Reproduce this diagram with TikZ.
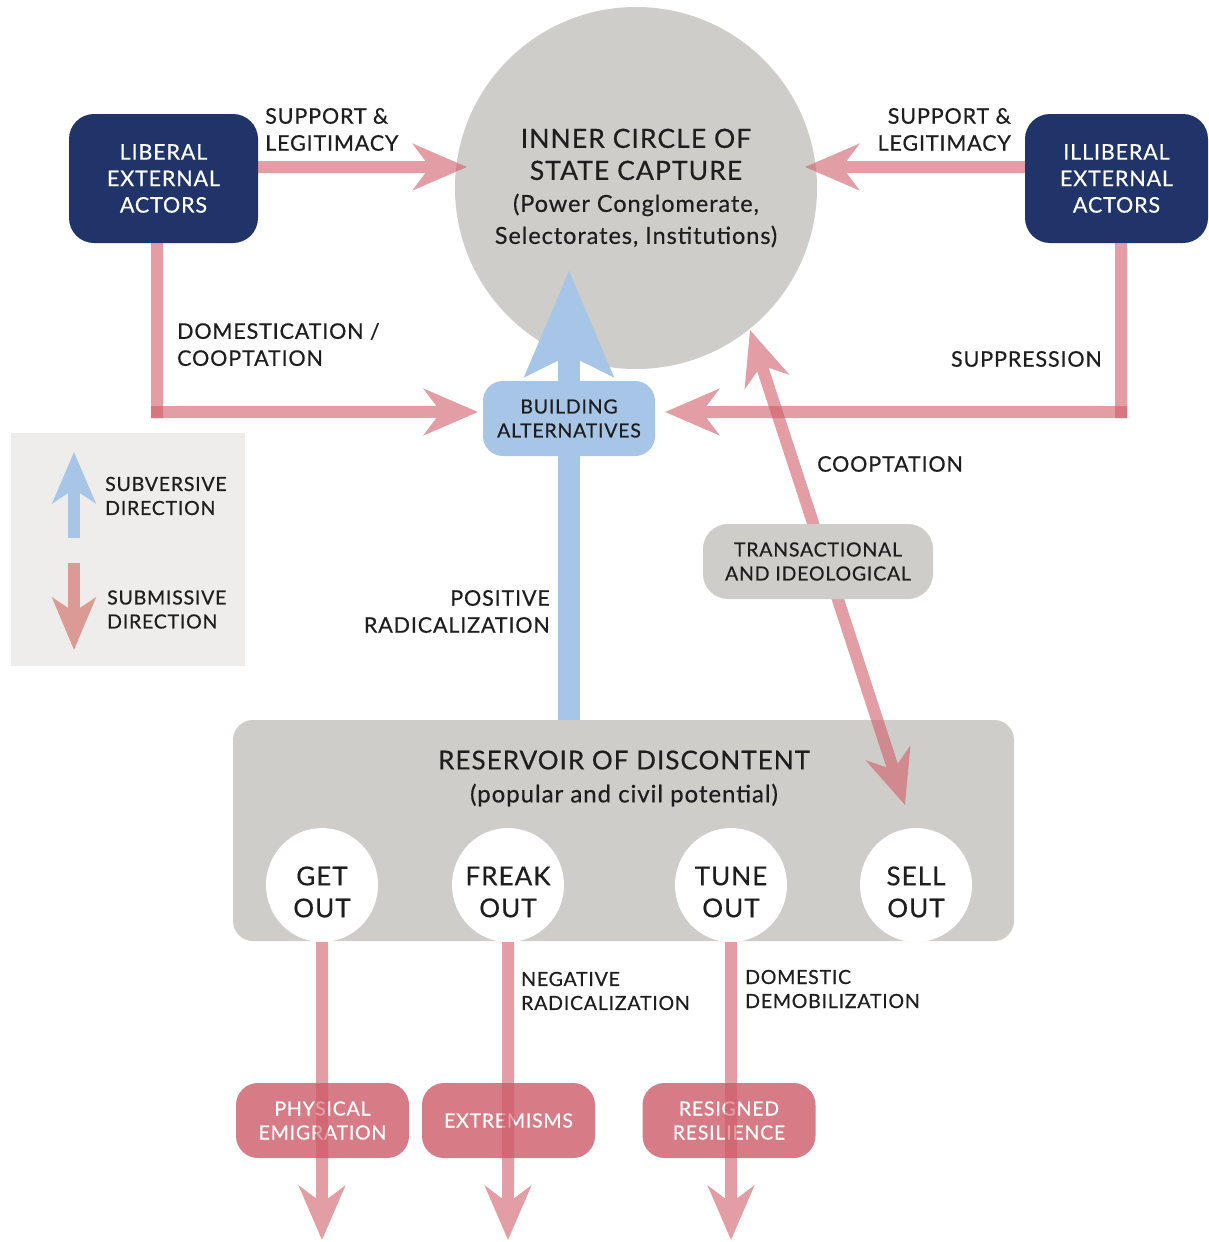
\documentclass[tikz,border=0pt]{standalone}
\usepackage{fontspec}
\setmainfont{Lato}[LetterSpace=4, FakeBold=0.5]
\usetikzlibrary{arrows.meta,shapes.geometric}
\definecolor{navy}{RGB}{33,52,106}
\definecolor{circgray}{RGB}{207,205,201}
\definecolor{pinkc}{RGB}{207,92,105}
\definecolor{bluec}{RGB}{167,197,231}
\definecolor{legbg}{RGB}{238,237,235}
\definecolor{legpink}{RGB}{219,154,148}
\definecolor{resboxc}{RGB}{215,123,134}
\definecolor{txt}{RGB}{30,30,30}
\newcommand\fsz[2]{\fontsize{#1}{#2}\selectfont}
\begin{document}
\begin{tikzpicture}[x=1pt,y=-1pt,
  every node/.style={text=txt, inner sep=0pt},
  navybox/.style={fill=navy, rounded corners=25pt, text=white, align=center, font=\fsz{21.5}{26.5}},
  lbl/.style={font=\fsz{21.5}{27}},
  smalllbl/.style={font=\fsz{19.5}{24}},
  pinkline/.style={draw=pinkc, line width=12pt},
  ptip/.style={-{Stealth[length=54pt,width=46pt,inset=17pt]}},
  dtip/.style={{Stealth[length=54pt,width=46pt,inset=17pt]}-{Stealth[length=54pt,width=46pt,inset=17pt]}},
  oval/.style={ellipse, fill=white, minimum width=112pt, minimum height=114pt},
  ovaltxt/.style={align=center, font=\fsz{26}{32}},
  resbox/.style={fill=resboxc, rounded corners=22pt, minimum width=173pt, minimum height=75pt, text=white, align=center, font=\fsz{19.5}{24}},
  tgroup/.style={transparency group, opacity=0.6}
]
\useasboundingbox (0,0) rectangle (1208,1242);

% legend
\node[fill=legbg, minimum width=234pt, minimum height=233pt] (legend) at (128,549.5) {};
\coordinate (legUpTip) at (74,452);
\coordinate (legUpBase) at (74,538);
\coordinate (legDnTop) at (74,563);
\coordinate (legDnTip) at (74,650);
\draw[bluec, line width=12pt, -{Stealth[length=51pt,width=43pt,inset=14pt]}] (legUpBase) -- (legUpTip);
\draw[legpink, line width=12pt, -{Stealth[length=52pt,width=43pt,inset=14pt]}] (legDnTop) -- (legDnTip);
\node[smalllbl, anchor=west, align=left] (subv) at (105,496) {SUBVERSIVE\\DIRECTION};
\node[smalllbl, anchor=west, align=left] (subm) at (107,609.5) {SUBMISSIVE\\DIRECTION};

% inner circle
\node[circle, fill=circgray, minimum size=362pt, align=center, font=\fsz{26.5}{32}] (inner) at (636,188)
  {INNER CIRCLE OF\\STATE CAPTURE\\{\fsz{23.5}{32}(Power Conglomerate,}\\{\fsz{23.5}{32}Selectorates, Institutions)}};

% reservoir
\node[fill=circgray, rounded corners=20pt, minimum width=781pt, minimum height=221pt] (reservoir) at (623.5,830.5) {};
\node[font=\fsz{26}{33}, align=center] (restitle) at (624,778.5) {RESERVOIR OF DISCONTENT\\{\fsz{24}{33}(popular and civil potential)}};

% external actors
\node[navybox, minimum width=189pt, minimum height=129pt] (liberal) at (163.5,178.5) {LIBERAL\\EXTERNAL\\ACTORS};
\node[navybox, minimum width=183pt, minimum height=129pt] (illiberal) at (1116.5,178.5) {ILLIBERAL\\EXTERNAL\\ACTORS};

% support arrows
\coordinate (supLtip) at (467,167);
\coordinate (supRtip) at (805,167);
\begin{scope}[tgroup]
\draw[pinkline, ptip] (liberal.east |- supLtip) -- (supLtip);
\end{scope}
\begin{scope}[tgroup]
\draw[pinkline, ptip] (illiberal.west |- supRtip) -- (supRtip);
\end{scope}

% domestication and suppression
\coordinate (libcorner) at (157,412);
\coordinate (illcorner) at (1121,412);
\coordinate (domtip) at (478,412);
\coordinate (suptip) at (665,412);
\begin{scope}[tgroup]
\draw[pinkline] (libcorner |- liberal.south) -- ([yshift=-6pt]libcorner);
\end{scope}
\begin{scope}[tgroup]
\draw[pinkline, ptip] ([xshift=-6pt]libcorner) -- (domtip);
\end{scope}
\begin{scope}[tgroup]
\draw[pinkline] (illcorner |- illiberal.south) -- ([yshift=-6pt]illcorner);
\end{scope}
\begin{scope}[tgroup]
\draw[pinkline, ptip] ([xshift=6pt]illcorner) -- (suptip);
\end{scope}

% blue positive radicalization arrow
\coordinate (bluetip) at (569,270);
\draw[bluec, line width=22pt, -{Stealth[length=105pt,width=86pt,inset=20pt]}] (bluetip |- reservoir.north) -- (bluetip);
\node[fill=bluec, rounded corners=20pt, minimum width=172pt, minimum height=75pt, align=center, font=\fsz{19.5}{24}] (build) at (569,418.5) {BUILDING\\ALTERNATIVES};

% cooptation double arrow
\coordinate (coopUp) at (750,330);
\coordinate (coopDown) at (905,805);
\begin{scope}[tgroup]
\draw[pinkline, dtip] (coopDown) -- (coopUp);
\end{scope}
\node[fill=circgray, rounded corners=25pt, minimum width=230pt, minimum height=75pt, align=center, font=\fsz{19.5}{24}] (trans) at (818,561.5) {TRANSACTIONAL\\AND IDEOLOGICAL};

% ovals
\node[oval] (getout) at (322,885) {};
\node[oval] (freakout) at (508,885) {};
\node[oval] (tuneout) at (731,885) {};
\node[oval] (sellout) at (916,885) {};
\node[ovaltxt] (getouttxt) at (322,892) {GET\\OUT};
\node[ovaltxt] (freakouttxt) at (508,892) {FREAK\\OUT};
\node[ovaltxt] (tuneouttxt) at (731,892) {TUNE\\OUT};
\node[ovaltxt] (selltouttxt) at (916,892) {SELL\\OUT};

% result boxes
\node[resbox] (emig) at (322.5,1120.5) {PHYSICAL\\EMIGRATION};
\node[resbox] (extr) at (508.5,1120.5) {EXTREMISMS};
\node[resbox] (resig) at (729,1120.5) {RESIGNED\\RESILIENCE};

% downward arrows
\coordinate (bottomline) at (0,1240);
\begin{scope}[tgroup]
\draw[pinkline, ptip] (getout.south) -- (getout.south |- bottomline);
\end{scope}
\begin{scope}[tgroup]
\draw[pinkline, ptip] (freakout.south) -- (freakout.south |- bottomline);
\end{scope}
\begin{scope}[tgroup]
\draw[pinkline, ptip] (tuneout.south) -- (tuneout.south |- bottomline);
\end{scope}

% labels
\node[lbl, anchor=west, align=left] (supLlbl) at (265,129.5) {SUPPORT \&\\LEGITIMACY};
\node[lbl, anchor=east, align=right] (supRlbl) at (1011,129.5) {SUPPORT \&\\LEGITIMACY};
\node[lbl, anchor=west, align=left] (domlbl) at (177,344.5) {DOMESTICATION /\\COOPTATION};
\node[lbl, anchor=east] (suplbl) at (1102,359) {SUPPRESSION};
\node[lbl, anchor=west] (cooplbl) at (817,464) {COOPTATION};
\node[lbl, anchor=east, align=right] (poslbl) at (550,611.5) {POSITIVE\\RADICALIZATION};
\node[smalllbl, anchor=west, align=left] (neglbl) at (521,991) {NEGATIVE\\RADICALIZATION};
\node[smalllbl, anchor=west, align=left] (demlbl) at (745,989) {DOMESTIC\\DEMOBILIZATION};
\end{tikzpicture}
\end{document}
